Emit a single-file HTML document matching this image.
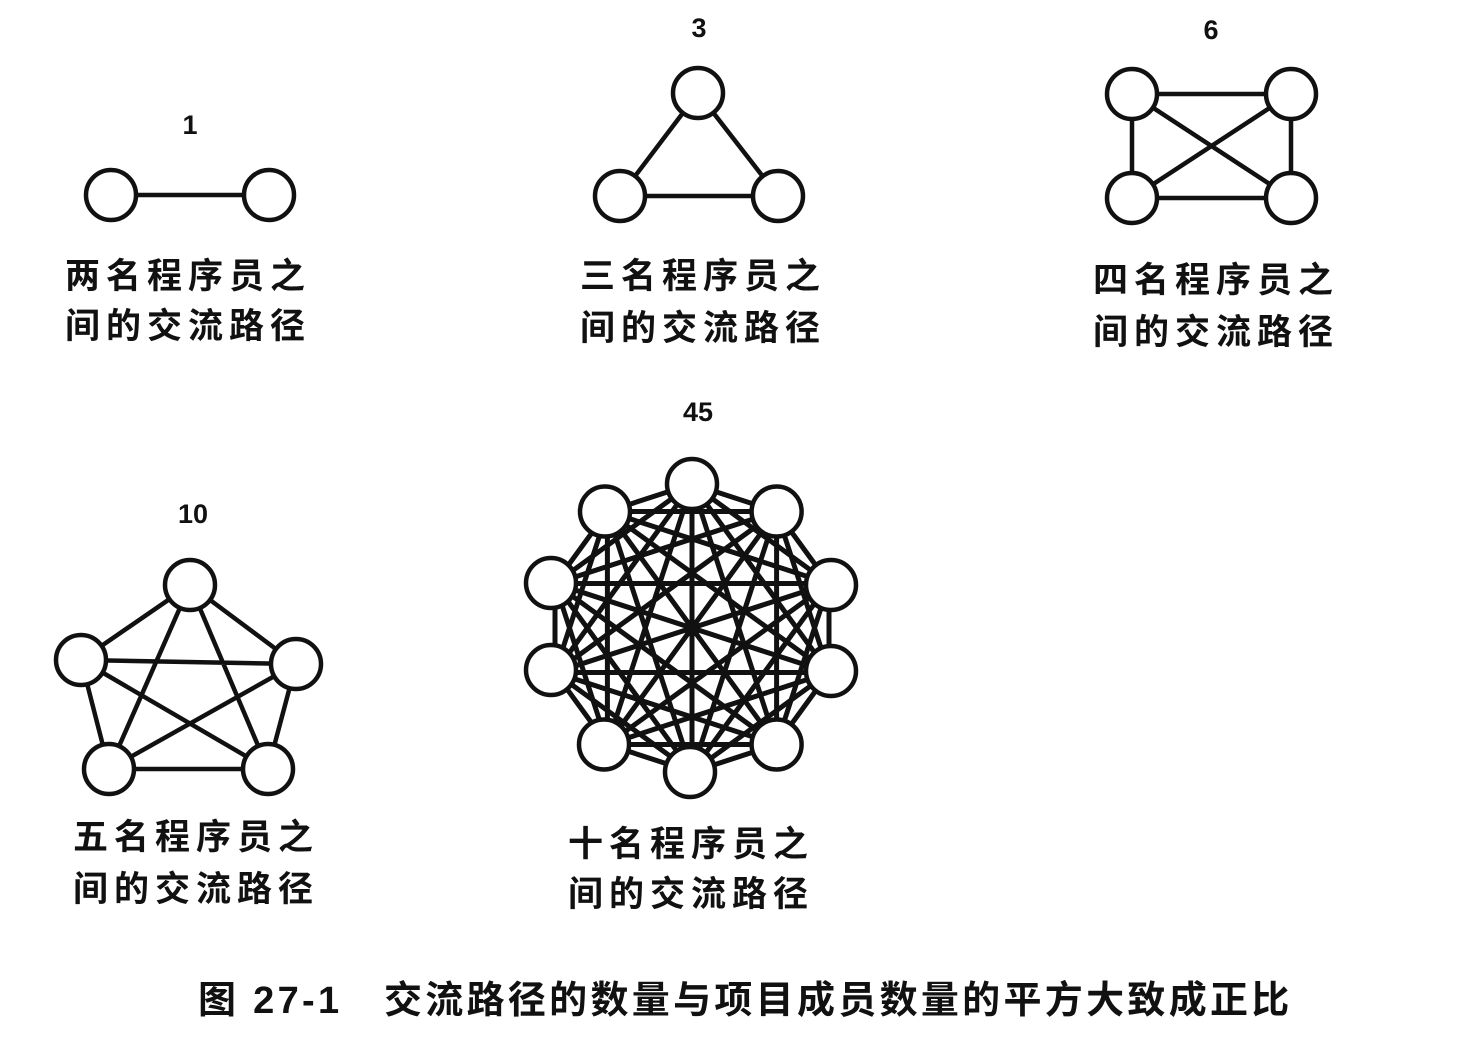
<!DOCTYPE html>
<html><head><meta charset="utf-8"><style>
html,body{margin:0;padding:0;background:#fff;}
body{width:1460px;height:1046px;overflow:hidden;position:relative;}
.t{position:absolute;font-family:"Liberation Sans","Noto Sans CJK SC",sans-serif;font-size:35px;font-weight:bold;letter-spacing:6px;text-indent:6px;color:#111;line-height:1;white-space:nowrap;transform:translateX(-50%);}
.n{position:absolute;font-family:"Liberation Sans",sans-serif;font-size:27px;font-weight:bold;color:#111;transform:translateX(-50%);line-height:1;}
.cap{position:absolute;left:198px;top:969px;font-family:"Liberation Sans","Noto Sans CJK SC",sans-serif;font-weight:bold;font-size:38px;color:#111;white-space:nowrap;letter-spacing:3.3px;}
</style></head><body>
<svg width="1460" height="1046" style="position:absolute;left:0;top:0" xmlns="http://www.w3.org/2000/svg">
<g stroke="#111" stroke-width="4.5" fill="none">
<line x1="111" y1="195" x2="269" y2="195"/>
<path d="M698 93 L620 196 L778 196 Z"/>
<path d="M1132 94 L1291 94 L1291 198 L1132 198 Z M1132 94 L1291 198 M1291 94 L1132 198"/>
<path d="M190 585 L81 660 M190 585 L296 664 M190 585 L109 769 M190 585 L268 769 M81 660 L296 664 M81 660 L109 769 M81 660 L268 769 M296 664 L109 769 M296 664 L268 769 M109 769 L268 769"/>
</g>
<g stroke="#111" stroke-width="5" fill="none">
<path d="M692 484 L776.6 511.5 M692 484 L829 583.5 M692 484 L829 672.5 M692 484 L776.6 744.5 M692 484 L692 772 M692 484 L607.4 744.5 M692 484 L555 672.5 M692 484 L555 583.5 M692 484 L607.4 511.5
M776.6 511.5 L829 583.5 M776.6 511.5 L829 672.5 M776.6 511.5 L776.6 744.5 M776.6 511.5 L692 772 M776.6 511.5 L607.4 744.5 M776.6 511.5 L555 672.5 M776.6 511.5 L555 583.5 M776.6 511.5 L607.4 511.5
M829 583.5 L829 672.5 M829 583.5 L776.6 744.5 M829 583.5 L692 772 M829 583.5 L607.4 744.5 M829 583.5 L555 672.5 M829 583.5 L555 583.5 M829 583.5 L607.4 511.5
M829 672.5 L776.6 744.5 M829 672.5 L692 772 M829 672.5 L607.4 744.5 M829 672.5 L555 672.5 M829 672.5 L555 583.5 M829 672.5 L607.4 511.5
M776.6 744.5 L692 772 M776.6 744.5 L607.4 744.5 M776.6 744.5 L555 672.5 M776.6 744.5 L555 583.5 M776.6 744.5 L607.4 511.5
M692 772 L607.4 744.5 M692 772 L555 672.5 M692 772 L555 583.5 M692 772 L607.4 511.5
M607.4 744.5 L555 672.5 M607.4 744.5 L555 583.5 M607.4 744.5 L607.4 511.5
M555 672.5 L555 583.5 M555 672.5 L607.4 511.5
M555 583.5 L607.4 511.5"/>
</g>
<g stroke="#111" stroke-width="4.5" fill="#fff">
<circle cx="111" cy="195" r="25"/><circle cx="269" cy="195" r="25"/>
<circle cx="698" cy="93" r="25"/><circle cx="620" cy="196" r="25"/><circle cx="778" cy="196" r="25"/>
<circle cx="1132" cy="94" r="25"/><circle cx="1291" cy="94" r="25"/><circle cx="1132" cy="198" r="25"/><circle cx="1291" cy="198" r="25"/>
<circle cx="190" cy="585" r="25"/><circle cx="81" cy="660" r="25"/><circle cx="296" cy="664" r="25"/><circle cx="109" cy="769" r="25"/><circle cx="268" cy="769" r="25"/>
<circle cx="692" cy="484" r="25"/><circle cx="776.6" cy="511.5" r="25"/><circle cx="831" cy="585" r="25"/><circle cx="831" cy="671" r="25"/><circle cx="776.6" cy="744.5" r="25"/><circle cx="690" cy="772" r="25"/><circle cx="604" cy="744.5" r="25"/><circle cx="551" cy="670" r="25"/><circle cx="551" cy="583" r="25"/><circle cx="605" cy="511.5" r="25"/>
</g>
</svg>
<div class="n" style="left:190px;top:112px">1</div>
<div class="n" style="left:699px;top:15px">3</div>
<div class="n" style="left:1211px;top:17px">6</div>
<div class="n" style="left:193px;top:501px">10</div>
<div class="n" style="left:698px;top:399px">45</div>
<div class="t" style="left:185px;top:259px">两名程序员之</div>
<div class="t" style="left:185px;top:309px">间的交流路径</div>
<div class="t" style="left:700px;top:259px">三名程序员之</div>
<div class="t" style="left:700px;top:311px">间的交流路径</div>
<div class="t" style="left:1213px;top:263px">四名程序员之</div>
<div class="t" style="left:1213px;top:315px">间的交流路径</div>
<div class="t" style="left:193px;top:820px">五名程序员之</div>
<div class="t" style="left:193px;top:872px">间的交流路径</div>
<div class="t" style="left:688px;top:827px">十名程序员之</div>
<div class="t" style="left:688px;top:877px">间的交流路径</div>
<div class="cap">图 27-1&nbsp;&nbsp;&nbsp;交流路径的数量与项目成员数量的平方大致成正比</div>
</body></html>
